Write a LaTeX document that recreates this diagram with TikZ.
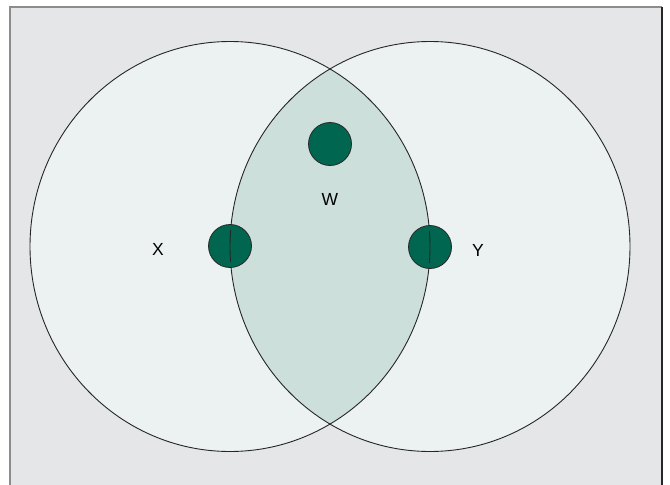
\documentclass[tikz,border=0pt]{standalone}
\usepackage{fontspec}
\setmainfont{Liberation Sans}
\usetikzlibrary{positioning}
\definecolor{panel}{HTML}{E4E6E8}
\definecolor{setfill}{HTML}{ECF2F2}
\definecolor{lensfill}{HTML}{CCDFDB}
\definecolor{dotfill}{HTML}{00664F}
\definecolor{edge}{HTML}{8C8C8C}
\tikzset{
  setring/.style={draw=black!85, line width=0.9pt},
  dotnode/.style={circle, draw=black!85, fill=dotfill, line width=0.8pt,
    minimum size=43pt, inner sep=0pt},
  lab/.style={font=\fontsize{17.5}{20}\selectfont, inner sep=0pt},
}

\begin{document}
\begin{tikzpicture}[x=1pt, y=-1pt]
\useasboundingbox (0,0) rectangle (670,485);

% frame
\fill[panel] (10,7) rectangle (662,490);
\draw[edge, line width=2pt] (10,490) -- (10,7) -- (662,7);
\draw[black!85, line width=1.5pt] (662,7) -- (662,490);

% sets
\coordinate (cx) at (230,246.5);
\coordinate (cy) at (430,246.5);
\fill[setfill] (cx) ellipse [x radius=200, y radius=205];
\fill[setfill] (cy) ellipse [x radius=200, y radius=205];
\begin{scope}
  \clip (cx) ellipse [x radius=200, y radius=205];
  \fill[lensfill] (cy) ellipse [x radius=200, y radius=205];
\end{scope}
\draw[setring] (cx) ellipse [x radius=200, y radius=205];
\draw[setring] (cy) ellipse [x radius=200, y radius=205];

% points
\node[dotnode] (px) at (230,246) {};
\node[dotnode] (pw) at (330,144) {};
\node[dotnode] (py) at (430,247) {};
\begin{scope}
  \clip (px.north west) rectangle (px.south east);
  \draw[setring] (cy) ellipse [x radius=200, y radius=205];
\end{scope}
\begin{scope}
  \clip (py.north west) rectangle (py.south east);
  \draw[setring] (cx) ellipse [x radius=200, y radius=205];
\end{scope}

\node[lab] (lx) at (158,249) {X};
\node[lab, below=49pt of pw.center] (lw) {W};
\node[lab] (ly) at (478,250) {Y};

\end{tikzpicture}
\end{document}
